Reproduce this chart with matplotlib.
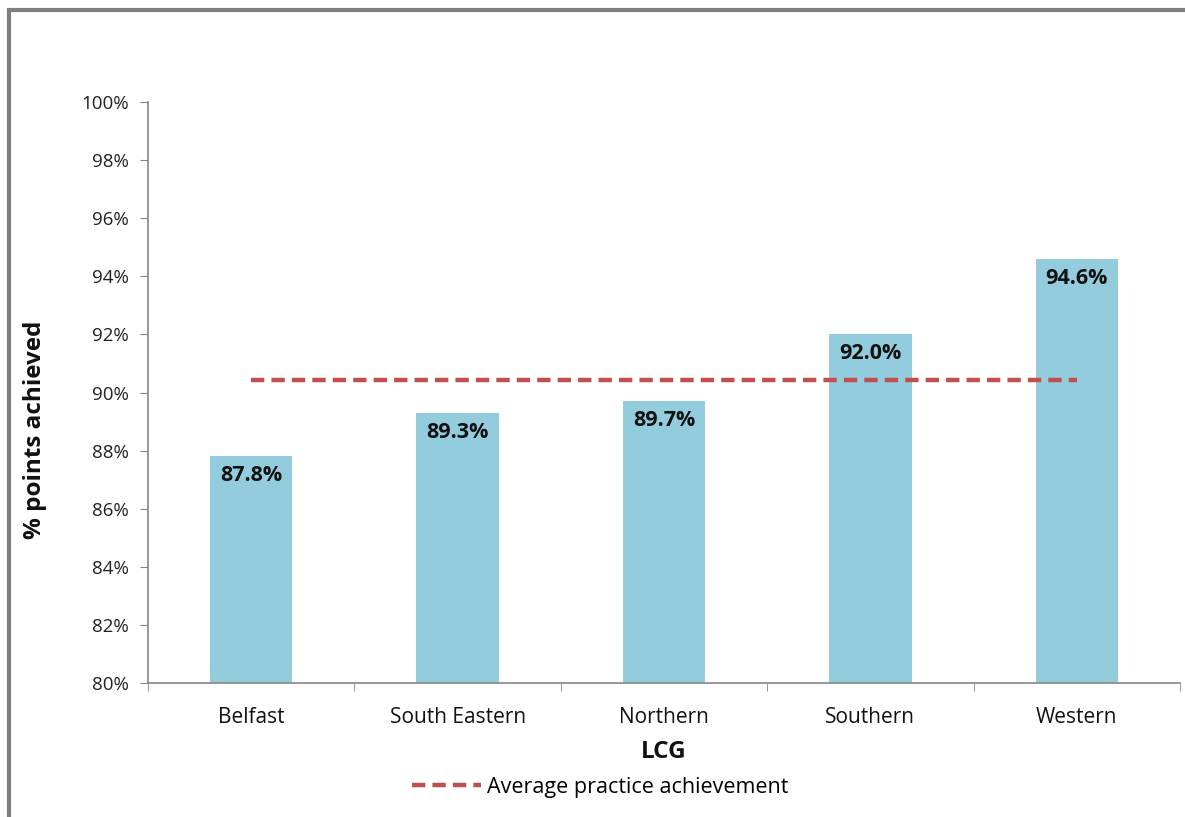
import matplotlib
matplotlib.use("Agg")
import matplotlib.pyplot as plt
from matplotlib.patches import Rectangle
from matplotlib.lines import Line2D
import numpy as np

categories = ["Belfast", "South Eastern", "Northern", "Southern", "Western"]
values = [87.8, 89.3, 89.7, 92.0, 94.6]
average = 90.43
yticks = [80, 82, 84, 86, 88, 90, 92, 94, 96, 98, 100]

plt.rcParams['font.family'] = ['Open Sans', 'DejaVu Sans']

fig = plt.figure(figsize=(11.85, 8.17), dpi=100)
ax = fig.add_axes([148/1185, 1-683/817, (1180-148)/1185, (683-102)/817])

x = np.arange(len(categories))
ax.bar(x, values, width=0.4, color="#93CDDD", zorder=2)
ax.plot([x[0], x[-1]], [average, average], color="#C0504D", lw=3.2,
        dashes=(3, 1.6), zorder=3)

for xi, v in zip(x, values):
    ax.text(xi, v - 0.3, f"{v:.1f}%", ha="center", va="top",
            fontsize=15.5, fontweight="bold", color="#111111", zorder=4)

ax.set_xlim(-0.5, len(categories) - 0.5)
ax.set_ylim(80, 100)
ax.set_yticks(yticks)
ax.set_yticklabels([f"{t}%" for t in yticks], fontsize=13.5, color="#222222")
ax.set_xticks(x)
ax.set_xticklabels(categories, fontsize=15, color="#111111")
ax.set_xticks(np.arange(-0.5, len(categories)), minor=True)
ax.tick_params(axis="x", which="major", length=0, pad=17)
ax.tick_params(axis="x", which="minor", length=6, color="#868686", direction="out")
ax.tick_params(axis="y", length=6, color="#868686", direction="out", pad=8)

for s in ["top", "right"]:
    ax.spines[s].set_visible(False)
for s in ["left", "bottom"]:
    ax.spines[s].set_color("#868686")
    ax.spines[s].set_linewidth(1.2)

fig.text(35/1185, 1-430/817, "% points achieved", rotation=90, ha="center",
         va="center", fontsize=17.5, fontweight="bold", color="#111111")
fig.text(664/1185, 1-752/817, "LCG", ha="center", va="center",
         fontsize=17.5, fontweight="bold", color="#111111")

handle = Line2D([], [], color="#C0504D", lw=3.2, dashes=(3, 1.6))
fig.legend([handle], ["Average practice achievement"], loc="center",
           bbox_to_anchor=(600/1185, 1-787/817), frameon=False, fontsize=15.5,
           handlelength=3.2, handletextpad=0.3)

fig.patches.append(Rectangle((9/1185, -0.05), 1.2, 1 - 10/817 + 0.05,
                             transform=fig.transFigure, fill=False,
                             edgecolor="#7F7F7F", lw=3, zorder=10))

fig.savefig("out.png", dpi=100)
